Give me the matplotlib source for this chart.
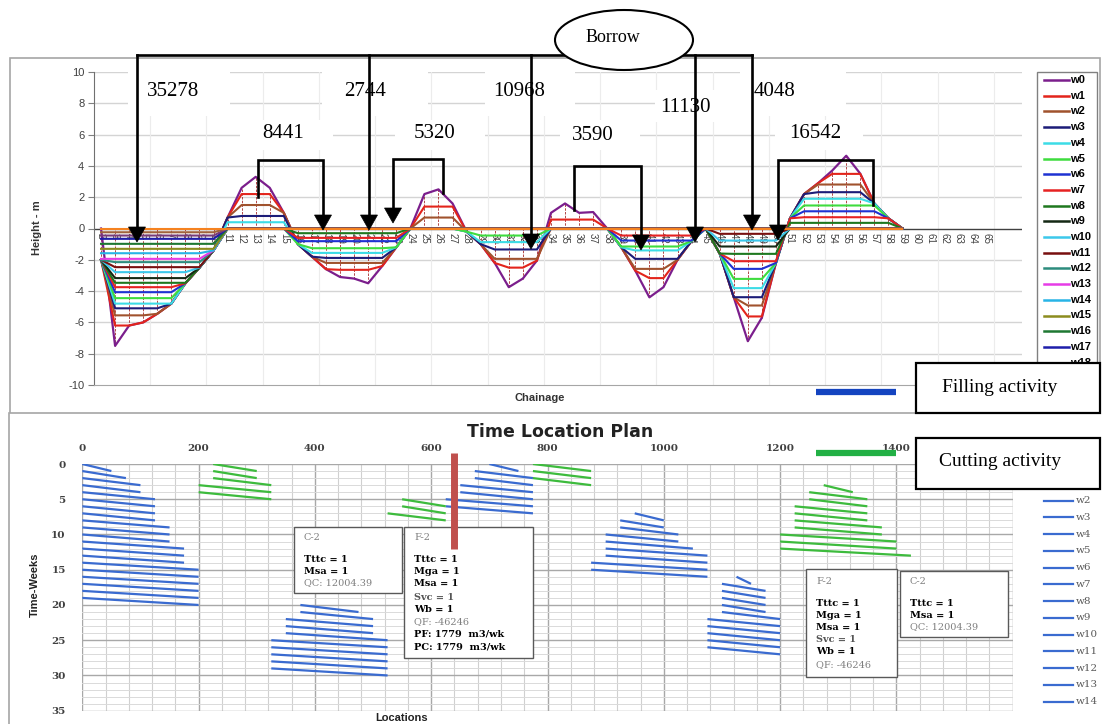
import numpy as np
import matplotlib
matplotlib.use("Agg")
import matplotlib.pyplot as plt
from matplotlib.transforms import Affine2D
from matplotlib.patches import Rectangle, Ellipse, Polygon
from matplotlib.lines import Line2D

plt.rcParams['axes.unicode_minus'] = False

# ---------------- earthwork profile (upper chart) ----------------
chainage = list(range(2, 60))
chainage_labels = list(range(2, 66))
ground_w0 = [0.0, -7.5, -6.2, -6.0, -5.45, -4.8, -3.5, -2.5, -1.4,
             0.7, 2.6, 3.3, 2.6, 1.0,
             -1.0, -1.8, -2.6, -3.1, -3.2, -3.5, -2.4, -1.2,
             0.0, 2.2, 2.5, 1.6,
             -0.2, -1.0, -2.2, -3.75, -3.2, -2.05,
             1.0, 1.6, 1.0, 1.05,
             0.0, -1.2, -2.7, -4.4, -3.75, -2.0, -0.8,
             0.0, -1.6, -4.4, -7.2, -5.7, -2.2,
             0.65, 2.2, 2.9, 3.7, 4.65, 3.5, 1.6, 0.65, 0.0]

# cut / fill zones and the level reached at the end of each week (w1, w2, ...)
section_first = [2, 11, 16, 24, 28, 34, 38, 45, 51]
section_last = [10, 15, 23, 27, 33, 37, 44, 50, 59]
section_is_fill = [True, False, True, False, True, False, True, True, False]
section_levels = [
    [-6.2, -5.55, -5.1, -4.8, -4.45, -4.07, -3.75, -3.47, -3.17, -2.79,
     -2.47, -2.15, -1.94, -1.58, -1.3, -0.98, -0.66, -0.45, -0.24],
    [2.2, 1.5, 0.8, 0.4],
    [-2.64, -2.2, -1.88, -1.56, -1.26, -0.81, -0.6, -0.3],
    [1.4, 0.7],
    [-2.5, -1.94, -1.34, -0.87, -0.45],
    [0.57],
    [-3.17, -2.58, -1.94, -1.4, -1.15, -0.77, -0.45],
    [-5.62, -4.92, -4.39, -3.81, -3.22, -2.58, -2.09, -1.62, -1.15, -0.77, -0.34],
    [3.49, 2.81, 2.32, 1.9, 1.47, 1.1, 0.72, 0.36],
]
n_weeks = 20
first_chainage_fill = -2.0

week_colors = ['#7B1E8C', '#E3241B', '#A0522D', '#1C1C78', '#3CDCE6', '#3EDC3E',
               '#1E32D2', '#E62222', '#1E781E', '#142814', '#3CC8EB', '#780F0F',
               '#2D8C7D', '#E63CE6', '#28B4E6', '#8C8C1E', '#1E7832', '#1E1EAA',
               '#783C78', '#A0643C', '#F58220']

# transfer volumes written over the profile
volume_labels = ["35278", "2744", "10968", "11130", "4048",
                 "8441", "5320", "3590", "16542"]

# ---------------- time location plan (lower chart) ----------------
# each activity: first week, start location per week, end location per week
blue_groups = [
    (0, [0] * 20,
     [50, 75, 100, 100, 125, 125, 125, 125, 150, 150, 150, 175, 175, 175,
      200, 200, 200, 200, 200, 200]),
    (20, [375, 375, 350, 350, 350, 325, 325, 325, 325, 325],
     [475, 500, 500, 500, 525, 525, 525, 525, 525, 525]),
    (0, [700, 675, 675, 650, 650, 625, 625],
     [750, 775, 775, 775, 775, 775, 775]),
    (7, [950, 925, 925, 900, 900, 900, 900, 875, 875],
     [1000, 1000, 1025, 1025, 1050, 1075, 1075, 1075, 1075]),
    (16, [1125, 1100, 1100, 1100, 1100, 1100, 1075, 1075, 1075, 1075, 1075],
     [1150, 1175, 1175, 1175, 1175, 1200, 1200, 1200, 1200, 1200, 1200]),
]
green_groups = [
    (0, [225, 225, 225, 200, 200], [300, 300, 325, 325, 325]),
    (5, [550, 550, 525], [625, 625, 625]),
    (0, [775, 775, 775], [875, 875, 875]),
    (3, [1275, 1250, 1250, 1225, 1225, 1225, 1225, 1200, 1200, 1200],
     [1325, 1350, 1350, 1350, 1350, 1375, 1375, 1400, 1400, 1425]),
]
marker_location = 640
marker_weeks = (-1.5, 12)
location_ticks = list(range(0, 1601, 200))
week_ticks = list(range(0, 36, 5))

# ---------------- figure ----------------
W, H = 1107, 724
fig = plt.figure(figsize=(W / 100, H / 100), dpi=100)
fig.patch.set_facecolor('white')
PX = Affine2D().scale(1, -1).translate(0, H)   # pixel coords, origin top-left

SERIF = 'Liberation Serif'
SANS = 'Liberation Sans'
BOXFONT = 'DejaVu Serif'


def px_axes(x0, y0, x1, y1):
    return fig.add_axes([x0 / W, 1 - y1 / H, (x1 - x0) / W, (y1 - y0) / H])


def fline(xs, ys, **kw):
    fig.add_artist(Line2D(xs, ys, transform=PX, **kw))


def frect(x0, y0, x1, y1, **kw):
    fig.add_artist(Rectangle((x0, y0), x1 - x0, y1 - y0, transform=PX, **kw))


def ftext(x, y, s, **kw):
    fig.text(x, y, s, transform=PX, **kw)


# outer frames
frect(10, 58, 1100, 413, fill=False, ec='#A6A6A6', lw=1.2, zorder=1)
fline([9, 9], [413, 724], color='#A6A6A6', lw=1.2, zorder=1)

# ======== upper chart ========
ax1 = px_axes(94, 72, 1022, 385)
ax1.set_xlim(1.5, 67.5)
ax1.set_ylim(-10, 10)

x = np.array(chainage, float)
w0 = np.array(ground_w0)
base = w0.copy()
base[0] = first_chainage_fill
series = [w0]
for k in range(n_weeks):
    line = np.empty_like(w0)
    for a, b, fill, lv in zip(section_first, section_last, section_is_fill, section_levels):
        sl = slice(a - chainage[0], b - chainage[0] + 1)
        level = lv[k] if k < len(lv) else 0.0
        line[sl] = np.maximum(base[sl], level) if fill else np.minimum(base[sl], level)
    series.append(line)
series = np.array(series)

for v in range(-8, 11, 2):
    if v != 0:
        ax1.axhline(v, color='#D4D4D4', lw=1.0, zorder=0)
for gx in np.arange(5.5, 67.5, 4):
    ax1.axvline(gx, color='#ECECEC', lw=0.8, zorder=0)
ax1.axhline(0, color='#404040', lw=1.0, zorder=0.5)

ax1.vlines(x, series.min(axis=0), series.max(axis=0), color='#A52A2A', lw=0.6,
           linestyles=(0, (3, 1.5)), zorder=1)
for i, s in enumerate(series):
    ax1.plot(x, s, color=week_colors[i], lw=1.6 if i == 0 else 1.5, zorder=2 + i * 0.01,
             solid_joinstyle='round')

for c in chainage_labels:
    ax1.text(c, -0.3, str(c), rotation=270, ha='center', va='top', fontsize=7,
             color='#404040', family=SANS, zorder=1.5)

ax1.set_xticks([])
ax1.set_yticks(range(-10, 11, 2))
ax1.tick_params(axis='y', direction='out', length=4, color='#808080', pad=3,
                labelsize=8, labelcolor='#404040')
for lab in ax1.get_yticklabels():
    lab.set_family(SANS)
for side in ('top', 'right'):
    ax1.spines[side].set_visible(False)
ax1.spines['left'].set_color('#707070')
ax1.spines['bottom'].set_color('#A6A6A6')
ax1.patch.set_alpha(0)

ftext(37, 228, 'Height - m', rotation=90, ha='center', va='center', fontsize=8,
      weight='bold', family=SANS, color='#333333')
ftext(540, 398, 'Chainage', ha='center', va='center', fontsize=8, weight='bold',
      family=SANS, color='#333333')

# volume labels with white backgrounds
label_boxes = [(128, 230, 62, 116), (322, 428, 62, 116), (485, 575, 62, 116),
               (655, 740, 90, 122), (740, 846, 62, 116), (240, 333, 120, 150),
               (395, 485, 120, 150), (560, 640, 120, 150), (775, 863, 120, 150)]
label_pos = [(173, 91), (365, 91), (519, 91), (685, 107), (775, 91),
             (283, 133), (435, 133), (593, 135), (815, 133)]
for (x0, x1, y0, y1), (tx, ty), s in zip(label_boxes, label_pos, volume_labels):
    frect(x0, y0, x1, y1, fc='white', ec='none', zorder=2)
    ftext(tx, ty, s, ha='center', va='center', fontsize=15, family=SERIF, zorder=3)


def arrow_head(xc, tip):
    fig.add_artist(Polygon([(xc - 8.5, tip - 15), (xc + 8.5, tip - 15), (xc, tip)],
                           closed=True, fc='black', ec='black', lw=0.5,
                           transform=PX, zorder=4))


AW = 1.9
# borrow connectors
fline([137, 566], [55, 55], color='black', lw=AW, zorder=4)
fline([683, 752], [55, 55], color='black', lw=AW, zorder=4)
for xc, tip in [(137, 242), (369, 230), (531, 249), (695, 242), (752, 230)]:
    fline([xc, xc], [55, tip - 12], color='black', lw=AW, zorder=4)
    arrow_head(xc, tip)
# cut-to-fill brackets
brackets = [(258, 197, 160, 323, 230), (443, 193, 159, 393, 223),
            (574, 210, 166, 641, 250), (873, 205, 160, 778, 240)]
for xs, ys, yt, xe, tip in brackets:
    fline([xs, xs, xe, xe], [ys, yt, yt, tip - 12], color='black', lw=AW, zorder=4,
          solid_joinstyle='miter')
    arrow_head(xe, tip)

fig.add_artist(Ellipse((624, 40), 138, 60, transform=PX, fc='white', ec='black',
                       lw=1.5, zorder=5))
ftext(613, 38, 'Borrow', ha='center', va='center', fontsize=13, family=SERIF, zorder=6)

# upper legend
frect(1037, 72, 1097, 398, fc='white', ec='#808080', lw=1.0, zorder=2)
for i in range(19):
    yy = 80 + 15.7 * i
    fline([1044, 1069], [yy, yy], color=week_colors[i], lw=1.8, zorder=3)
    ftext(1070, yy, f'w{i}', ha='left', va='center', fontsize=8, weight='bold',
          family=SANS, zorder=3)

# ======== lower chart ========
ax2 = px_axes(82.3, 464, 1012.7, 710.7)
ax2.set_xlim(0, 1600)
ax2.set_ylim(35, 0)
for gx in range(0, 1601, 40):
    major = gx % 200 == 0
    ax2.axvline(gx, color='#A8A8A8' if major else '#D0D0D0', lw=1.0 if major else 0.8,
                zorder=0)
for gy in range(0, 36):
    major = gy % 5 == 0
    ax2.axhline(gy, color='#A8A8A8' if major else '#DADADA', lw=1.0 if major else 0.7,
                zorder=0)
for sp in ax2.spines.values():
    sp.set_visible(False)

for groups, color in ((blue_groups, '#3A6BD0'), (green_groups, '#3DBB3D')):
    for week0, starts, ends in groups:
        for j, (a, b) in enumerate(zip(starts, ends)):
            wk = week0 + j
            ax2.plot([a, b], [wk, wk + 1], color=color, lw=1.6, zorder=2,
                     solid_capstyle='butt')

ax2.xaxis.tick_top()
ax2.set_xticks(location_ticks)
ax2.set_yticks(week_ticks)
ax2.tick_params(axis='x', length=0, pad=8, labelsize=7.5, labelcolor='#404040')
ax2.tick_params(axis='y', length=0, pad=12, labelsize=7.5, labelcolor='#404040')
for lab in ax2.get_xticklabels() + ax2.get_yticklabels():
    lab.set_family(BOXFONT)
    lab.set_weight('bold')

ax2.plot([marker_location, marker_location], list(marker_weeks), color='#C0504D', lw=5,
         solid_capstyle='butt', clip_on=False, zorder=7)

ftext(560, 432, 'Time Location Plan', ha='center', va='center', fontsize=12.5,
      weight='bold', family='DejaVu Sans', color='#222222')
ftext(35, 585, 'Time-Weeks', rotation=90, ha='center', va='center', fontsize=8,
      weight='bold', family=SANS, color='#222222')
ftext(402, 718, 'Locations', ha='center', va='center', fontsize=8, weight='bold',
      family=SANS, color='#222222')

# resource boxes
GREY = '#7F7F7F'
info_boxes = [
    ((294, 527, 402, 593), 304,
     [('C-2', 537, GREY, 'normal'), ('Tttc = 1', 559, 'black', 'bold'),
      ('Msa = 1', 571, 'black', 'bold'), ('QC: 12004.39', 583, GREY, 'normal')]),
    ((404, 527, 533, 658), 414,
     [('F-2', 538, GREY, 'normal'), ('Tttc = 1', 560, 'black', 'bold'),
      ('Mga = 1', 572, 'black', 'bold'), ('Msa = 1', 584, 'black', 'bold'),
      ('Svc = 1', 597, '#555555', 'bold'), ('Wb = 1', 609, 'black', 'bold'),
      ('QF: -46246', 622, GREY, 'normal'), ('PF: 1779  m3/wk', 634, 'black', 'bold'),
      ('PC: 1779  m3/wk', 647, 'black', 'bold')]),
    ((806, 569, 897, 677), 816,
     [('F-2', 581, GREY, 'normal'), ('Tttc = 1', 603, 'black', 'bold'),
      ('Mga = 1', 615, 'black', 'bold'), ('Msa = 1', 628, 'black', 'bold'),
      ('Svc = 1', 640, '#555555', 'bold'), ('Wb = 1', 652, 'black', 'bold'),
      ('QF: -46246', 665, GREY, 'normal')]),
    ((900, 571, 1008, 637), 910,
     [('C-2', 581, GREY, 'normal'), ('Tttc = 1', 603, 'black', 'bold'),
      ('Msa = 1', 615, 'black', 'bold'), ('QC: 12004.39', 627, GREY, 'normal')]),
]
for (x0, y0, x1, y1), tx, rows in info_boxes:
    ax2.add_patch(Rectangle((x0, y0), x1 - x0, y1 - y0, transform=PX, fc='white',
                            ec='#595959', lw=1.0, clip_on=False, zorder=5))
    for s, yy, col, wt in rows:
        ax2.text(tx, yy, s, transform=PX, ha='left', va='center', fontsize=7,
                 color=col, weight=wt, family=BOXFONT, clip_on=False, zorder=6)

# lower legend
for i in range(15):
    yy = 500.7 + 16.75 * (i - 2)
    fline([1044, 1073], [yy, yy], color='#3A6BD0', lw=1.6, zorder=3)
    ftext(1076, yy, f'w{i}', ha='left', va='center', fontsize=7.5, color='#595959',
          family=BOXFONT, zorder=3)

# activity keys
frect(916, 363, 1100, 413, fc='white', ec='black', lw=1.6, zorder=8)
ftext(1000, 387, 'Filling activity', ha='center', va='center', fontsize=14,
      family=SERIF, zorder=9)
fline([816, 896], [391.5, 391.5], color='#1444C0', lw=4.5, solid_capstyle='butt', zorder=8)

frect(916, 438, 1100, 489, fc='white', ec='black', lw=1.6, zorder=8)
ftext(1000, 462, 'Cutting activity', ha='center', va='center', fontsize=14,
      family=SERIF, zorder=9)
fline([816, 896], [453, 453], color='#22B045', lw=4.5, solid_capstyle='butt', zorder=8)

fig.savefig('out.png', dpi=100)
